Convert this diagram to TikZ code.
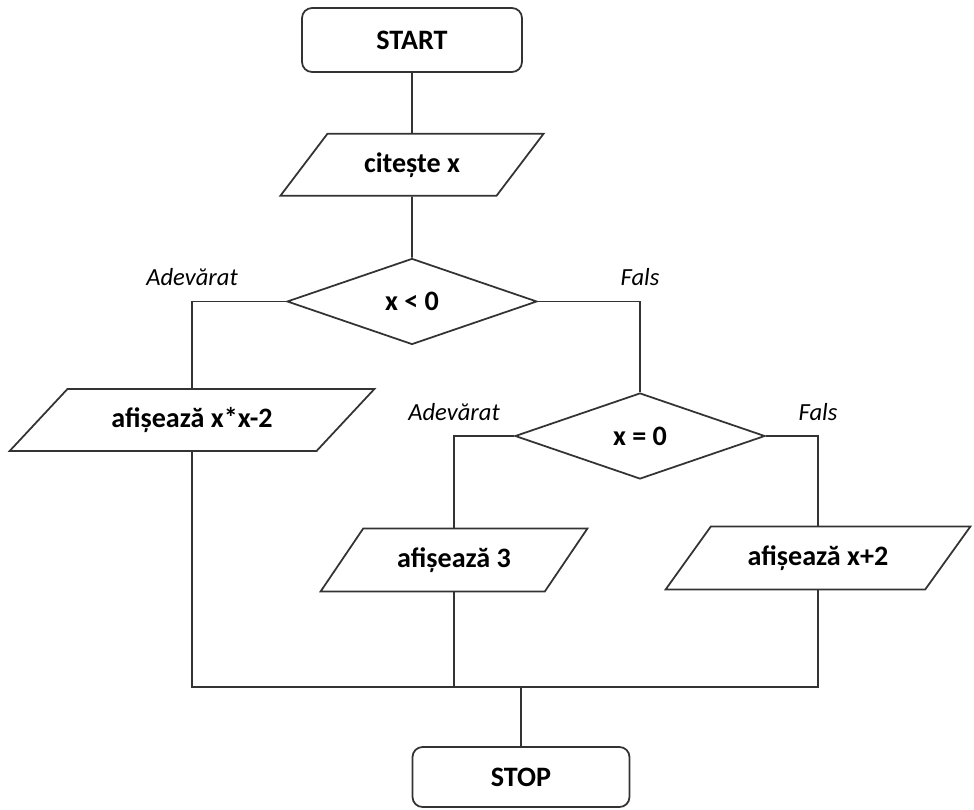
\documentclass[tikz,border=0pt]{standalone}
\usepackage{fontspec}
\setmainfont{Carlito}
\usepackage{tikz}
\usetikzlibrary{shapes.geometric, positioning}

\begin{document}
\begin{tikzpicture}[
  x=0.02cm, y=-0.02cm,
  terminal/.style={draw=black!80, line width=1pt, rounded corners=0.2cm, minimum height=1.28cm, minimum width=4.4cm, font=\fontsize{16}{19}\selectfont\bfseries, align=center},
  io/.style={draw=black!80, line width=1pt, trapezium, trapezium stretches=true, trapezium left angle=#1, trapezium right angle=180-#1, minimum height=1.24cm, inner sep=0pt, font=\fontsize{16}{19}\selectfont\bfseries},
  decision/.style={draw=black!80, line width=1pt, diamond, minimum width=5cm, minimum height=1.72cm, inner sep=0pt, font=\fontsize{16}{19}\selectfont\bfseries},
  answer/.style={font=\fontsize{14}{17}\selectfont\itshape, above=5pt},
  line/.style={draw=black!80, line width=1pt}
]
  \useasboundingbox (0,0) rectangle (974,809);

  \node[terminal] (start) at (412,40) {START};
  \node[io=43, minimum width=5.3cm, below=1.2cm of start] (read) {citește x};
  \node[decision, below=1.22cm of read] (neg) {x < 0};
  \node[io=34, minimum width=7.3cm] (square) at (192,420) {afișează x*x-2};
  \node[decision] (zero) at (640,436) {x = 0};
  \node[io=43, minimum width=5.34cm, minimum height=1.26cm] (three) at (454,560) {afișează 3};
  \node[io=40, minimum width=6.1cm, minimum height=1.26cm] (plus) at (818,558) {afișează x+2};
  \node[terminal, minimum width=4.34cm, minimum height=1.2cm] (stop) at (521,777) {STOP};
  \coordinate (join) at (521,687);

  \draw[line] (start) -- (read);
  \draw[line] (read) -- (neg);
  \draw[line] (neg.west) -| node[answer, pos=0.5] (yes1) {Adevărat} (square.north);
  \draw[line] (neg.east) -| node[answer, pos=0.5] (no1) {Fals} (zero.north);
  \draw[line] (zero.west) -| node[answer, pos=0.5] (yes2) {Adevărat} (three.north);
  \draw[line] (zero.east) -| node[answer, pos=0.5] (no2) {Fals} (plus.north);
  \draw[line] (square.south) |- (join);
  \draw[line] (plus.south) |- (join);
  \draw[line] (three.south) -- (three.south |- join);
  \draw[line] (join) -- (stop);
\end{tikzpicture}
\end{document}
